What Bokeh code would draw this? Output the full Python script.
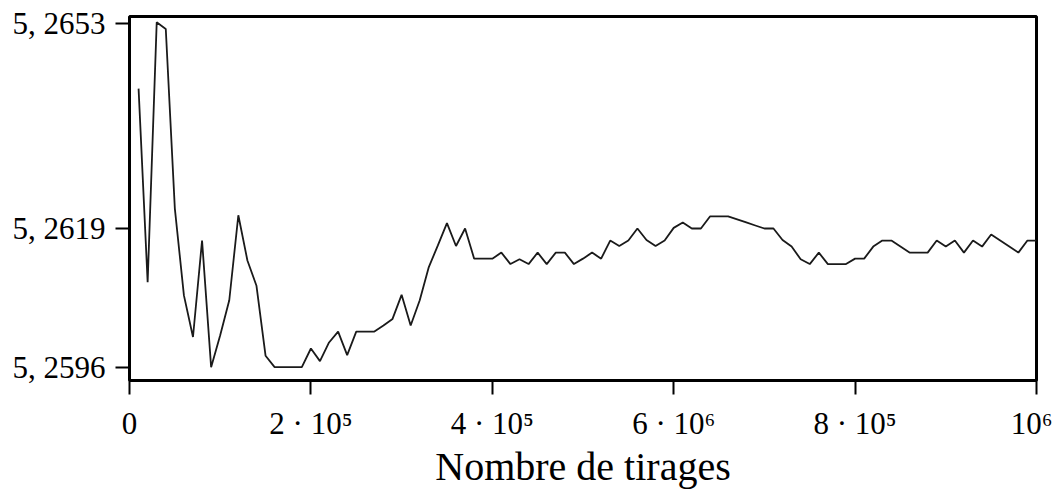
from bokeh.plotting import figure
from bokeh.models import FixedTicker, Range1d
from bokeh.embed import file_html
from bokeh.resources import INLINE

# x: nombre de tirages (every 10^4 draws)
tirages = list(range(10000, 1000001, 10000))

estimations = [
    5.26422, 5.26101, 5.26532, 5.26521, 5.26223, 5.26079, 5.26010, 5.26170, 5.25960, 5.26013,
    5.26071, 5.26212, 5.26137, 5.26095, 5.25979, 5.25960, 5.25960, 5.25960, 5.25960, 5.25991,
    5.25970, 5.26001, 5.26019, 5.25980, 5.26019, 5.26019, 5.26019, 5.26029, 5.26040, 5.26080,
    5.26029, 5.26071, 5.26126, 5.26162, 5.26199, 5.26161, 5.26190, 5.26140, 5.26140, 5.26140,
    5.26150, 5.26131, 5.26139, 5.26131, 5.26150, 5.26131, 5.26150, 5.26150, 5.26131, 5.26140,
    5.26150, 5.26140, 5.26170, 5.26161, 5.26170, 5.26190, 5.26171, 5.26161, 5.26170, 5.26191,
    5.26200, 5.26190, 5.26190, 5.26210, 5.26210, 5.26210, 5.26205, 5.26200, 5.26195, 5.26190,
    5.26190, 5.26171, 5.26160, 5.26139, 5.26131, 5.26150, 5.26131, 5.26131, 5.26131, 5.26140,
    5.26140, 5.26160, 5.26170, 5.26170, 5.26160, 5.26150, 5.26150, 5.26150, 5.26170, 5.26160,
    5.26170, 5.26150, 5.26170, 5.26160, 5.26180, 5.26170, 5.26160, 5.26150, 5.26170, 5.26170,
]

x_ticks = [0, 200000, 400000, 600000, 800000, 1000000]
x_tick_labels = ["0", "2 · 10⁵", "4 · 10⁵", "6 · 10⁶", "8 · 10⁵", "10⁶"]
y_ticks = [5.2596, 5.2619, 5.2653]
y_tick_labels = ["5, 2596", "5, 2619", "5, 2653"]
x_label = "Nombre de tirages"

FONT = "Liberation Serif"

p = figure(width=1052, height=496, output_backend="svg", toolbar_location=None,
           x_range=Range1d(0, 1000000), y_range=Range1d(5.259379, 5.265416),
           min_border_left=129, min_border_right=16, min_border_top=16, min_border_bottom=116)

p.line(tirages, estimations, line_color="#1a1a1a", line_width=1.8)

p.grid.visible = False
p.outline_line_color = "black"
p.outline_line_width = 3

for ax in (p.xaxis[0], p.yaxis[0]):
    ax.axis_line_color = None
    ax.major_tick_in = 0
    ax.minor_tick_in = 0
    ax.minor_tick_out = 0
    ax.major_tick_line_width = 2
    ax.major_tick_line_color = "black"
    ax.major_label_text_font = FONT
    ax.major_label_text_color = "black"
    ax.major_label_text_font_size = "31px"

p.xaxis.ticker = FixedTicker(ticks=x_ticks)
p.xaxis.major_label_overrides = {t: l for t, l in zip(x_ticks, x_tick_labels)}
p.xaxis.major_tick_out = 14
p.xaxis.major_label_standoff = 11
p.xaxis.axis_label = x_label
p.xaxis.axis_label_text_font = FONT
p.xaxis.axis_label_text_font_style = "normal"
p.xaxis.axis_label_text_font_size = "40px"
p.xaxis.axis_label_text_color = "black"
p.xaxis.axis_label_standoff = 0

p.yaxis.ticker = FixedTicker(ticks=y_ticks)
p.yaxis.major_label_overrides = {t: l for t, l in zip(y_ticks, y_tick_labels)}
p.yaxis.major_tick_out = 14
p.yaxis.major_label_standoff = 10

open("out.html", "w").write(file_html(p, INLINE))
